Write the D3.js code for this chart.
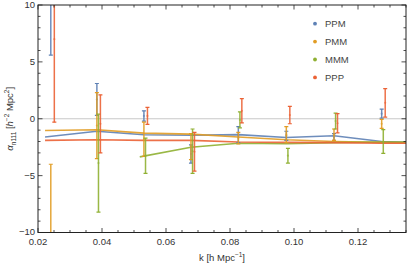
<!DOCTYPE html>
<html>
<head>
<meta charset="utf-8">
<script src="https://cdn.jsdelivr.net/npm/d3@7"></script>
<style>
  body { margin: 0; background: #fff; }
  svg { display: block; font-family: "Liberation Sans", Arial, sans-serif; }
</style>
</head>
<body>
<svg id="chart" width="407" height="266"></svg>
<script>
const seriesNames = ['PPM', 'PMM', 'MMM', 'PPP'];
const colors = ['#5E81B5', '#E19C24', '#8FB032', '#EB6235'];

// measured points (k, value, error)
const ppmK = [0.0240, 0.0384, 0.0531, 0.0678, 0.0826, 0.0976, 0.1125, 0.1274];
const ppmV = [11.0, 1.7, 0.25, -3.1, -1.4, -1.5, -1.6, 0.45];
const ppmE = [5.4, 1.4, 0.45, 0.8, 0.7, 0.4, 0.3, 0.4];

const pmmK = [0.0240, 0.0384, 0.0531, 0.0678, 0.0826, 0.0976, 0.1125, 0.1274];
const pmmV = [-11.0, -0.6, -1.8, -2.45, -1.7, -1.4, -1.4, -0.45];
const pmmE = [7.0, 2.9, 1.5, 1.15, 0.5, 0.7, 0.5, 0.4];

const mmmK = [0.0389, 0.0536, 0.0683, 0.0831, 0.0981, 0.1130, 0.1279];
const mmmV = [-3.9, -3.25, -2.85, -0.1, -3.25, -0.2, -2.0];
const mmmE = [4.3, 1.55, 1.95, 0.7, 0.65, 0.7, 1.05];

const pppK = [0.0251, 0.0395, 0.0542, 0.0689, 0.0837, 0.0987, 0.1136, 0.1285];
const pppV = [7.0, -0.45, 0.25, -2.9, 0.7, 0.32, -0.4, 1.4];
const pppE = [7.3, 2.55, 0.75, 1.7, 1.07, 0.76, 0.85, 1.25];

// model curves
const lineK = [0.0222, 0.0384, 0.0531, 0.0678, 0.0826, 0.0976, 0.1125, 0.1274, 0.142];
const ppmLine = [-1.6, -1.1, -1.4, -1.45, -1.4, -1.65, -1.5, -2.0, -2.15];
const pmmLine = [-1.03, -0.97, -1.26, -1.35, -1.6, -1.85, -2.0, -2.08, -2.15];
const pppLine = [-1.9, -1.85, -1.9, -1.9, -2.05, -2.08, -2.1, -2.15, -2.15];
const mmmLineK = [0.0518, 0.0678, 0.0826, 0.0976, 0.1125, 0.1274, 0.142];
const mmmLine = [-3.35, -2.5, -2.15, -2.2, -2.1, -2.05, -2.05];

const xTicks = [0.02, 0.04, 0.06, 0.08, 0.10, 0.12];
const yTicks = [-10, -5, 0, 5, 10];

// ——— Layout ———
const W = 407, H = 266;
const m = { left: 38, right: 1, top: 5, bottom: 33.5 };
const svg = d3.select('#chart');

const x = d3.scaleLinear().domain([0.02, 0.135]).range([m.left, W - m.right]);
const y = d3.scaleLinear().domain([-10, 10]).range([H - m.bottom, m.top]);

svg.append('defs').append('clipPath').attr('id', 'plot')
  .append('rect')
  .attr('x', m.left).attr('y', m.top)
  .attr('width', W - m.left - m.right).attr('height', H - m.top - m.bottom);

// zero line
svg.append('line')
  .attr('x1', x.range()[0]).attr('x2', x.range()[1])
  .attr('y1', y(0)).attr('y2', y(0))
  .attr('stroke', '#c8c8c8').attr('stroke-width', 1);

const plot = svg.append('g').attr('clip-path', 'url(#plot)');

// ——— Model lines ———
const lines = [
  { k: lineK, v: ppmLine, c: colors[0] },
  { k: lineK, v: pmmLine, c: colors[1] },
  { k: mmmLineK, v: mmmLine, c: colors[2] },
  { k: lineK, v: pppLine, c: colors[3] }
];
const lineGen = d3.line().x(d => x(d[0])).y(d => y(d[1]));
lines.forEach(s => {
  plot.append('path')
    .datum(s.k.map((k, i) => [k, s.v[i]]))
    .attr('d', lineGen)
    .attr('fill', 'none')
    .attr('stroke', s.c)
    .attr('stroke-width', 1.6)
    .attr('stroke-opacity', 0.9);
});

// ——— Error bars ———
const points = [
  { k: ppmK, v: ppmV, e: ppmE, c: colors[0] },
  { k: pmmK, v: pmmV, e: pmmE, c: colors[1] },
  { k: mmmK, v: mmmV, e: mmmE, c: colors[2] },
  { k: pppK, v: pppV, e: pppE, c: colors[3] }
];
points.forEach(s => {
  const data = s.k.map((k, i) => ({ k, v: s.v[i], e: s.e[i] }));
  const g = plot.append('g').attr('stroke', s.c).attr('fill', s.c);
  g.selectAll('line.bar').data(data).join('line').attr('class', 'bar')
    .attr('x1', d => x(d.k)).attr('x2', d => x(d.k))
    .attr('y1', d => y(d.v + d.e)).attr('y2', d => y(d.v - d.e))
    .attr('stroke-width', 1.5).attr('stroke-opacity', 0.9);
  [1, -1].forEach(sgn => {
    g.selectAll('line.cap' + sgn).data(data).join('line')
      .attr('x1', d => x(d.k) - 2).attr('x2', d => x(d.k) + 2)
      .attr('y1', d => y(d.v + sgn * d.e)).attr('y2', d => y(d.v + sgn * d.e))
      .attr('stroke-width', 1.2);
  });
  g.selectAll('circle').data(data).join('circle')
    .attr('cx', d => x(d.k)).attr('cy', d => y(d.v))
    .attr('r', 1.1).attr('stroke', 'none').attr('fill-opacity', 0.6);
});

// ——— Frame and ticks ———
const frame = svg.append('g').attr('stroke', '#222');
const [x0, x1] = x.range(), [y0, y1] = y.range();
frame.append('rect')
  .attr('x', x0).attr('y', y1).attr('width', x1 - x0).attr('height', y0 - y1)
  .attr('fill', 'none').attr('stroke-width', 1);

const xMinor = d3.range(0.02, 0.1351, 0.005);
const yMinor = d3.range(-10, 10.01, 1);
xMinor.forEach(t => {
  const major = xTicks.some(v => Math.abs(v - t) < 1e-6);
  const len = major ? 4.5 : 2.5;
  frame.append('line').attr('x1', x(t)).attr('x2', x(t)).attr('y1', y0).attr('y2', y0 - len).attr('stroke-width', 0.8);
  frame.append('line').attr('x1', x(t)).attr('x2', x(t)).attr('y1', y1).attr('y2', y1 + len).attr('stroke-width', 0.8);
});
yMinor.forEach(t => {
  const major = yTicks.includes(Math.round(t)) && Math.abs(t - Math.round(t)) < 1e-6;
  const len = major ? 4.5 : 2.5;
  frame.append('line').attr('y1', y(t)).attr('y2', y(t)).attr('x1', x0).attr('x2', x0 + len).attr('stroke-width', 0.8);
  frame.append('line').attr('y1', y(t)).attr('y2', y(t)).attr('x1', x1).attr('x2', x1 - len).attr('stroke-width', 0.8);
});

// tick labels
svg.append('g').selectAll('text').data(xTicks).join('text')
  .attr('x', d => x(d)).attr('y', y0 + 12)
  .attr('text-anchor', 'middle').attr('font-size', 9.5).attr('fill', '#333')
  .text(d => d3.format('.2f')(d));
svg.append('g').selectAll('text').data(yTicks).join('text')
  .attr('x', x0 - 3).attr('y', d => y(d) + (d === -10 ? 2.5 : 3.4))
  .attr('text-anchor', 'end').attr('font-size', 9.5).attr('fill', '#333')
  .text(d => d < 0 ? '\u2212' + Math.abs(d) : d);

// axis labels
const xl = svg.append('text')
  .attr('x', (x0 + x1) / 2).attr('y', 261)
  .attr('text-anchor', 'middle').attr('font-size', 9.5).attr('fill', '#333');
xl.append('tspan').text('k [h Mpc');
xl.append('tspan').attr('font-size', 6.5).attr('dy', -4).text('\u22121');
xl.append('tspan').attr('dy', 4).text(']');

const yl = svg.append('text')
  .attr('transform', `translate(13,${(y0 + y1) / 2}) rotate(-90)`)
  .attr('text-anchor', 'middle').attr('font-size', 9.5).attr('fill', '#333');
yl.append('tspan').attr('font-style', 'italic').text('\u03b1');
yl.append('tspan').attr('font-size', 6.5).attr('dy', 2.5).text('n111');
yl.append('tspan').attr('dy', -2.5).text(' [');
yl.append('tspan').attr('font-style', 'italic').text('h');
yl.append('tspan').attr('font-size', 6.5).attr('dy', -4).text('\u22122');
yl.append('tspan').attr('dy', 4).text(' Mpc');
yl.append('tspan').attr('font-size', 6.5).attr('dy', -4).text('2');
yl.append('tspan').attr('dy', 4).text(']');

// ——— Legend ———
const legend = svg.append('g').selectAll('g').data(seriesNames).join('g')
  .attr('transform', (d, i) => `translate(315,${23.7 + i * 17.9})`);
legend.append('circle').attr('r', 1.9).attr('fill', (d, i) => colors[i]);
legend.append('text').attr('x', 10).attr('y', 3.4)
  .attr('font-size', 9.5).attr('fill', '#444').text(d => d);
</script>
</body>
</html>
